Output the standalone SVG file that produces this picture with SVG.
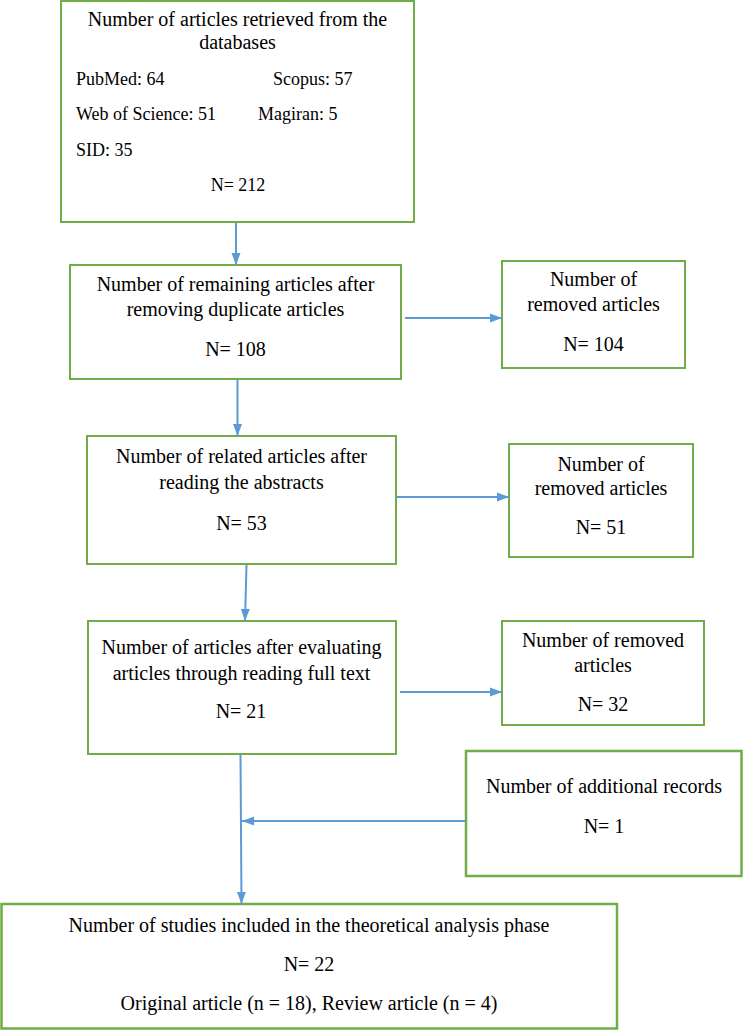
<svg xmlns="http://www.w3.org/2000/svg" width="743" height="1030" viewBox="0 0 743 1030">
<style>
.box{fill:#fff;stroke:#70AD47;stroke-width:2}
.thick{stroke-width:2.5}
.t{font-family:"Liberation Serif","Times New Roman",serif;font-size:20px;fill:#000}
.s{font-size:18px}
.c{text-anchor:middle}
.conn{stroke:#5B9BD5;stroke-width:2;fill:none;marker-end:url(#ah)}
</style>
<defs>
<marker id="ah" markerUnits="userSpaceOnUse" markerWidth="12" markerHeight="10" refX="12" refY="5" orient="auto">
<path d="M0,0.5 L12,5 L0,9.5 z" fill="#5B9BD5"/>
</marker>
</defs>
<rect width="743" height="1030" fill="#fff"/>
<g id="n1">
<rect class="box" x="61" y="1" width="353" height="221"/>
<text class="t c" x="237.5" y="26">Number of articles retrieved from the</text>
<text class="t c" x="237.5" y="49">databases</text>
<text class="t s" x="76" y="85">PubMed: 64</text>
<text class="t s" x="273" y="85">Scopus: 57</text>
<text class="t s" x="76" y="120">Web of Science: 51</text>
<text class="t s" x="258" y="120">Magiran: 5</text>
<text class="t s" x="76" y="156">SID: 35</text>
<text class="t s c" x="238" y="191">N= 212</text>
</g>
<g id="n2">
<rect class="box" x="70" y="265" width="331" height="114"/>
<text class="t c" x="235.5" y="291">Number of remaining articles after</text>
<text class="t c" x="235.5" y="316">removing duplicate articles</text>
<text class="t c" x="235.5" y="356">N= 108</text>
</g>
<g id="n3">
<rect class="box" x="502" y="261" width="183" height="107"/>
<text class="t c" x="593.5" y="286">Number of</text>
<text class="t c" x="593.5" y="311">removed articles</text>
<text class="t c" x="593.5" y="351">N= 104</text>
</g>
<g id="n4">
<rect class="box" x="87" y="436" width="309" height="128"/>
<text class="t c" x="241.5" y="463">Number of related articles after</text>
<text class="t c" x="241.5" y="489">reading the abstracts</text>
<text class="t c" x="241.5" y="530">N= 53</text>
</g>
<g id="n5">
<rect class="box" x="509" y="444" width="184" height="113"/>
<text class="t c" x="601" y="471">Number of</text>
<text class="t c" x="601" y="495">removed articles</text>
<text class="t c" x="601" y="534">N= 51</text>
</g>
<g id="n6">
<rect class="box" x="88" y="621" width="308" height="133"/>
<text class="t c" x="241.5" y="654">Number of articles after evaluating</text>
<text class="t c" x="241.5" y="680">articles through reading full text</text>
<text class="t c" x="241" y="718">N= 21</text>
</g>
<g id="n7">
<rect class="box" x="502" y="621" width="202" height="104"/>
<text class="t c" x="603" y="647">Number of removed</text>
<text class="t c" x="603" y="672">articles</text>
<text class="t c" x="603" y="711">N= 32</text>
</g>
<g id="n8">
<rect class="box thick" x="466" y="751" width="275.5" height="125"/>
<text class="t c" x="604" y="793">Number of additional records</text>
<text class="t c" x="604" y="833">N= 1</text>
</g>
<g id="n9">
<rect class="box thick" x="1.5" y="904" width="615.5" height="124.5"/>
<text class="t c" x="309" y="932">Number of studies included in the theoretical analysis phase</text>
<text class="t c" x="309" y="971">N= 22</text>
<text class="t c" x="309" y="1010">Original article (n = 18), Review article (n = 4)</text>
</g>
<g id="connectors">
<line class="conn" x1="236" y1="223" x2="236" y2="265"/>
<line class="conn" x1="405" y1="318" x2="502" y2="318"/>
<line class="conn" x1="237.5" y1="380" x2="237.5" y2="436"/>
<line class="conn" x1="397" y1="497" x2="509" y2="497"/>
<line class="conn" x1="246.5" y1="565" x2="245" y2="621"/>
<line class="conn" x1="400" y1="692" x2="502" y2="692"/>
<line class="conn" x1="466" y1="821" x2="242" y2="821"/>
<line class="conn" x1="240.5" y1="755" x2="241.5" y2="904"/>
</g>
</svg>
